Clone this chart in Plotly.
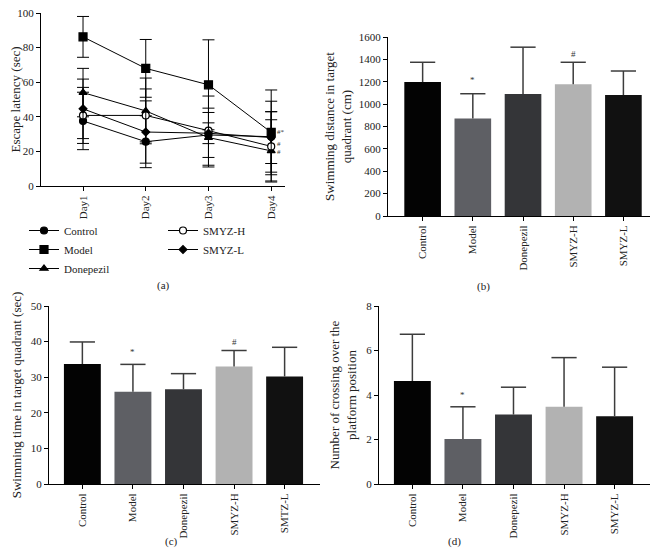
import plotly.graph_objects as go

# ---- data ----
days = ["Day1", "Day2", "Day3", "Day4"]
escape_series = ["Control", "Model", "Donepezil", "SMYZ-H", "SMYZ-L"]
escape_mean = {
    "Control": [37.6, 25.6, 29.5, 28.5],
    "Model": [86.2, 68.0, 58.5, 31.0],
    "Donepezil": [54.0, 43.4, 28.0, 20.3],
    "SMYZ-H": [40.8, 40.8, 32.0, 22.9],
    "SMYZ-L": [44.6, 31.2, 30.5, 28.0],
}
escape_sd = {
    "Control": [16.6, 15.0, 13.0, 20.5],
    "Model": [11.8, 16.7, 26.0, 24.5],
    "Donepezil": [14.0, 19.0, 17.0, 18.0],
    "SMYZ-H": [16.2, 15.3, 20.0, 20.0],
    "SMYZ-L": [17.2, 18.0, 6.0, 15.0],
}
day4_marks = ["#*", "#", "#"]
day4_mark_y = [31.5, 24.5, 19.5]

groups = ["Control", "Model", "Donepezil", "SMYZ-H", "SMYZ-L"]
groups_c = ["Control", "Model", "Donepezil", "SMYZ-H", "SMTZ-L"]
bar_colors = ["#030303", "#5e5f64", "#343538", "#b2b2b2", "#111111"]

dist_mean = [1197, 871, 1090, 1177, 1081]
dist_top = [1374, 1093, 1509, 1374, 1296]
dist_marks = ["", "*", "", "#", ""]
dist_mark_y = [0, 1215, 0, 1450, 0]

time_mean = [33.7, 25.9, 26.6, 33.0, 30.2]
time_top = [39.9, 33.6, 31.0, 37.5, 38.4]
time_marks = ["", "*", "", "#", ""]
time_mark_y = [0, 37.2, 0, 40.0, 0]

cross_mean = [4.63, 2.02, 3.12, 3.47, 3.05]
cross_top = [6.73, 3.47, 4.35, 5.68, 5.25]
cross_marks = ["", "*", "", "", ""]
cross_mark_y = [0, 4.0, 0, 0, 0]

FONT = "Liberation Serif"
# the page body has an 8px margin, so the figure is drawn 8px in from the window edge
OFF = 8
W, H = 658 - OFF, 560 - OFF

fig = go.Figure()

symbols = {
    "Control": ("circle", "black", 7),
    "Model": ("square", "black", 8),
    "Donepezil": ("triangle-up", "black", 7),
    "SMYZ-H": ("circle", "white", 7),
    "SMYZ-L": ("diamond", "black", 6),
}
for name in escape_series:
    sym, fill, size = symbols[name]
    fig.add_trace(go.Scatter(
        x=days, y=escape_mean[name], name=name, mode="lines+markers",
        line=dict(color="black", width=1),
        marker=dict(symbol=sym, color=fill, size=size, line=dict(color="black", width=1.2)),
        error_y=dict(type="data", array=escape_sd[name], color="black", thickness=1, width=6),
        xaxis="x", yaxis="y",
        legend="legend" if name in ("Control", "Model", "Donepezil") else "legend2",
    ))


def add_bars(ax, labels, means, tops):
    # bars with upward-only error stems (no cap at the bar top)
    fig.add_trace(go.Bar(
        x=labels, y=means, marker=dict(color=bar_colors, line=dict(width=0)),
        width=0.73, showlegend=False,
        error_y=dict(type="data", symmetric=False,
                     array=[t - m for t, m in zip(tops, means)],
                     arrayminus=[0] * len(means),
                     color="#3c3c3c", thickness=1.5, width=0),
        xaxis="x" + ax, yaxis="y" + ax,
    ))
    # caps at the top of the error stems
    fig.add_trace(go.Scatter(
        x=labels, y=tops, mode="markers", showlegend=False, hoverinfo="skip",
        marker=dict(symbol="line-ew", size=18, line=dict(color="#3c3c3c", width=1.5)),
        xaxis="x" + ax, yaxis="y" + ax,
    ))


add_bars("2", groups, dist_mean, dist_top)
add_bars("3", groups_c, time_mean, time_top)
add_bars("4", groups, cross_mean, cross_top)


def px_x(a):
    return (a - OFF) / W


def px_y(b):
    return 1 - (b - OFF) / H


def xdom(a, b):
    return [px_x(a), px_x(b)]


def ydom(top, bottom):
    return [px_y(bottom), px_y(top)]


annotations = []
for m, yv in zip(day4_marks, day4_mark_y):
    annotations.append(dict(x="Day4", y=yv, xref="x", yref="y", text=m, showarrow=False,
                            xanchor="left", xshift=4, font=dict(size=7, color="#333")))
for ax, labels, marks, ys in [("2", groups, dist_marks, dist_mark_y),
                              ("3", groups_c, time_marks, time_mark_y),
                              ("4", groups, cross_marks, cross_mark_y)]:
    for lab, m, yv in zip(labels, marks, ys):
        if m:
            annotations.append(dict(x=lab, y=yv, xref="x" + ax, yref="y" + ax, text=m,
                                    showarrow=False, font=dict(size=9, color="#333")))

for txt, px, py in [("(a)", 155, 285), ("(b)", 492, 286), ("(c)", 163, 550), ("(d)", 463, 550)]:
    annotations.append(dict(x=px_x(px), y=px_y(py), xref="paper", yref="paper", text=txt,
                            showarrow=False, font=dict(size=11)))

axis_common = dict(showline=True, linecolor="black", linewidth=1, ticks="outside",
                   tickcolor="black", ticklen=4, showgrid=False, zeroline=False,
                   ticklabeloverflow="allow",
                   tickfont=dict(size=11, family=FONT, color="#222"))

fig.update_layout(
    width=W, height=H, margin=dict(l=0, r=0, t=0, b=0, autoexpand=False),
    paper_bgcolor="white", plot_bgcolor="white",
    font=dict(family=FONT, size=11, color="#222"),
    xaxis=dict(domain=xdom(41, 285), range=[-0.67, 3.22], tickangle=-90, anchor="y", **axis_common),
    yaxis=dict(domain=ydom(13, 186), range=[0, 100], dtick=20, anchor="x",
               title=dict(text="Escape latency (sec)", standoff=6), **axis_common),
    xaxis2=dict(domain=xdom(388, 650), range=[-0.69, 4.53], tickangle=-90, anchor="y2", **axis_common),
    yaxis2=dict(domain=ydom(37, 216), range=[0, 1600], dtick=200, anchor="x2",
                title=dict(text="Swimming distance in target<br>quadrant (cm)", standoff=4), **axis_common),
    xaxis3=dict(domain=xdom(49, 320), range=[-0.66, 4.7], tickangle=-90, anchor="y3", **axis_common),
    yaxis3=dict(domain=ydom(306, 484), range=[0, 50], dtick=10, anchor="x3",
                title=dict(text="Swimming time in target quadrant (sec)", standoff=6), **axis_common),
    xaxis4=dict(domain=xdom(379, 650), range=[-0.66, 4.7], tickangle=-90, anchor="y4", **axis_common),
    yaxis4=dict(domain=ydom(306, 484), range=[0, 8], dtick=2, anchor="x4",
                title=dict(text="Number of crossing over the<br>platform position", standoff=6), **axis_common),
    legend=dict(x=px_x(24), y=px_y(216), xanchor="left", yanchor="top", bgcolor="rgba(0,0,0,0)",
                font=dict(size=11), tracegroupgap=0, itemwidth=30),
    legend2=dict(x=px_x(163), y=px_y(216), xanchor="left", yanchor="top", bgcolor="rgba(0,0,0,0)",
                 font=dict(size=11), tracegroupgap=0, itemwidth=30),
    annotations=annotations,
    bargap=0.27,
)

fig.write_html("out.html")
